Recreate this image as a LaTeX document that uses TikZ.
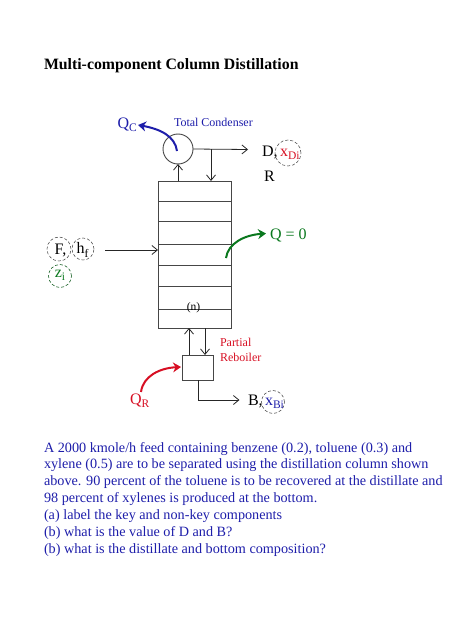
\documentclass[tikz,border=0pt]{standalone}
\usepackage{fontspec}
\setmainfont{Liberation Serif}
\usetikzlibrary{arrows.meta}
\definecolor{qblue}{RGB}{30,30,170}
\definecolor{qred}{RGB}{215,15,35}
\definecolor{qgreen}{RGB}{10,120,30}
\definecolor{line}{RGB}{70,70,70}
\newcommand{\lowsub}[1]{\raisebox{-3.2pt}{\fontsize{11.5}{12}\selectfont #1}}
\tikzset{
  every node/.style={inner sep=0pt,outer sep=0pt},
  unit/.style={draw=line,line width=0.9pt,fill=white},
  tray/.style={draw=line,line width=0.9pt},
  flow/.style={draw=black!85,line width=0.8pt,-{Straight Barb[length=5.5pt,width=9pt]}},
  heat/.style={line width=2pt,-{Stealth[length=8pt,width=10pt]}},
  dashring/.style={circle,draw=line,densely dashed,line width=0.55pt,minimum size=#1},
  lab/.style={font=\fontsize{16}{18}\selectfont},
}
\begin{document}
\begin{tikzpicture}[x=1pt,y=-1pt]
\useasboundingbox (0,0) rectangle (474,631);
\node[anchor=west,font=\bfseries\fontsize{15.8}{18}\selectfont] (title) at (44,66) {Multi-component Column Distillation};
% column
\node[unit,minimum width=73pt,minimum height=147pt,anchor=north west] (col) at (158,181) {};
\foreach \yy in {201,221,244,265,286,309}{\draw[tray] (158,\yy) -- (231,\yy);}
\node[font=\fontsize{11.5}{12}\selectfont] (n) at (193.5,308) {(n)};
% condenser
\node[circle,unit,minimum size=30pt] (cond) at (178,149) {};
\coordinate (colL) at (178,181);
\coordinate (colR) at (211,181);
\coordinate (condT) at (211,149.5);
\coordinate (dEnd) at (248,149.5);
\draw[flow] (colL) -- (cond.south);
\draw[flow] (cond.east) -- (dEnd);
\draw[flow] (condT) -- (colR);
% reboiler
\node[unit,minimum width=31pt,minimum height=25pt,anchor=north west] (reb) at (182,355) {};
\coordinate (rebL) at (189,355);
\coordinate (colBL) at (189,328);
\coordinate (colBR) at (205,328);
\coordinate (rebR) at (205,355);
\draw[flow] (rebL) -- (colBL);
\draw[flow] (colBR) -- (rebR);
\coordinate (rebB) at (198,380);
\coordinate (bEnd) at (239.5,400);
\draw[flow] (rebB) |- (bEnd);
% feed
\coordinate (feedS) at (105,250);
\coordinate (feedE) at (158,250);
\draw[flow] (feedS) -- (feedE);
% heat arrows
\coordinate (qcS) at (177,151);
\coordinate (qcE) at (138,125);
\draw[heat,qblue] (qcS) .. controls (175,136) and (160,129) .. (qcE);
\coordinate (q0S) at (226,258);
\coordinate (q0E) at (266,233.5);
\draw[heat,qgreen] (q0S) .. controls (228,243) and (245,235) .. (q0E);
\coordinate (qrS) at (141,392);
\coordinate (qrE) at (181,367);
\draw[heat,qred] (qrS) .. controls (143,376) and (160,368) .. (qrE);
% labels
\node[text=qblue,font=\fontsize{12}{14}\selectfont,anchor=west] (tc) at (174,122) {Total Condenser};
\node[text=qblue,lab,anchor=west] (qc) at (117.5,125) {Q\lowsub{C}};
\node[lab,anchor=west] (d) at (262,152) {D,};
\node[dashring=26pt] (xdr) at (288,153) {};
\node[text=qred,lab,anchor=west] (xd) at (280,154) {x\lowsub{Di}};
\node[lab,anchor=west] (r) at (264,176) {R};
\node[text=qgreen,lab,anchor=west] (q0) at (270,235) {Q = 0};
\node[dashring=24pt] (fr) at (59,249) {};
\node[lab] (f) at (60.5,250) {F,};
\node[dashring=22pt] (hr) at (83,249) {};
\node[lab] (h) at (82.5,250) {h\lowsub{f}};
\node[dashring=23pt,draw=qgreen!70!black] (zr) at (60,276) {};
\node[text=qgreen,lab] (z) at (60,275.5) {z\lowsub{i}};
\node[text=qred,font=\fontsize{12}{15}\selectfont,align=left,anchor=north west] (pr) at (220,338) {Partial\\Reboiler};
\node[text=qred,lab,anchor=west] (qr) at (130,401) {Q\lowsub{R}};
\node[lab,anchor=west] (b) at (248,401) {B,};
\node[dashring=23pt] (xbr) at (273,402) {};
\node[text=qblue,lab,anchor=west] (xb) at (265,403) {x\lowsub{Bi}};
% text
\node[text=qblue,anchor=north west,align=left,font=\fontsize{14.2}{16.9}\selectfont] (body) at (44,442) {A 2000 kmole/h feed containing benzene (0.2), toluene (0.3) and\\
xylene (0.5) are to be separated using the distillation column shown\\
above. 90 percent of the toluene is to be recovered at the distillate and\\
98 percent of xylenes is produced at the bottom.\\
(a) label the key and non-key components\\
(b) what is the value of D and B?\\
(b) what is the distillate and bottom composition?};
\end{tikzpicture}
\end{document}
